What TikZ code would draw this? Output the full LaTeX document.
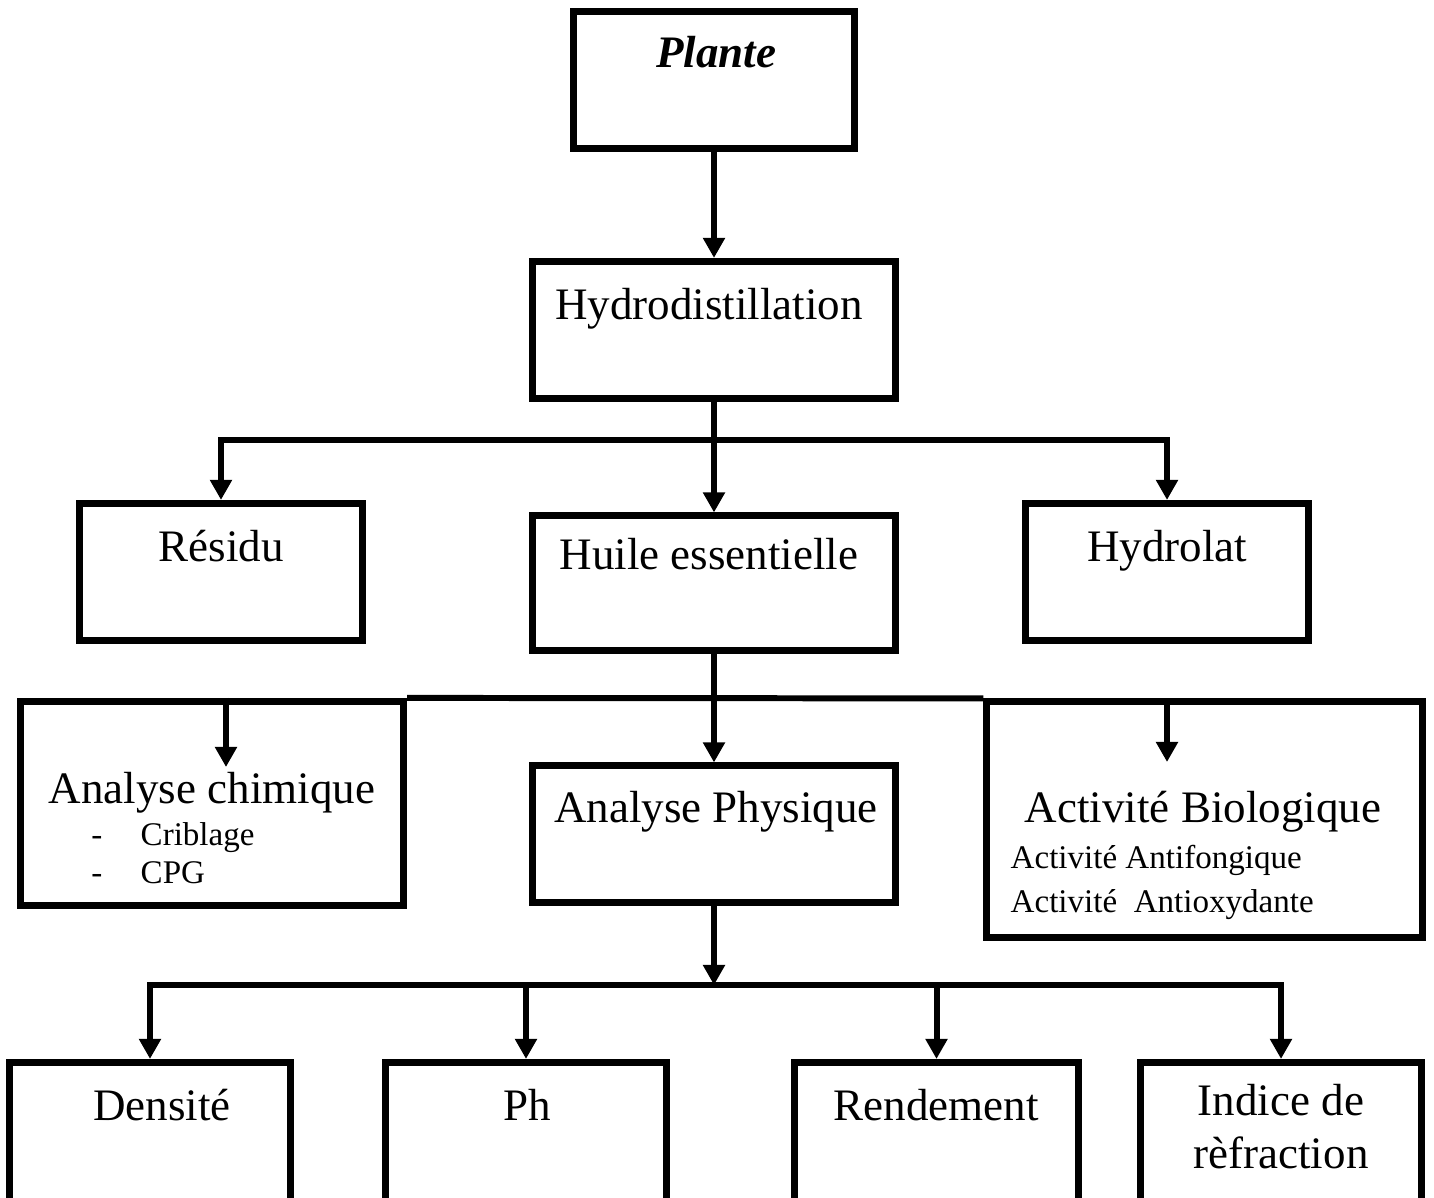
\documentclass[tikz,border=0pt]{standalone}
\usepackage{fontspec}
\setmainfont{Liberation Serif}
\usepackage{tikz}
\usetikzlibrary{arrows.meta,calc}
\tikzset{
  box/.style={draw, line width=2pt, inner sep=0pt},
  lab/.style={font=\fontsize{12.8}{15}\selectfont, anchor=base, inner sep=0pt},
  labs/.style={font=\fontsize{9.4}{11}\selectfont, anchor=base west, inner sep=0pt},
  link/.style={line width=1.7pt},
  arr/.style={line width=1.7pt, -{Triangle[width=0.21cm,length=0.2cm]}},
}

\begin{document}
\begin{tikzpicture}[x=0.01cm,y=-0.01cm]
  \useasboundingbox (0,0) rectangle (1434,1198);
  \clip (0,0) rectangle (1434,1198);

  % boxes
  \node[box, minimum width=2.815cm, minimum height=1.365cm] (plante) at (714,80) {};
  \node[box, minimum width=3.62cm, minimum height=1.37cm] (hydro) at (714,330) {};
  \node[box, minimum width=2.82cm, minimum height=1.37cm] (res) at (221,572) {};
  \node[box, minimum width=3.62cm, minimum height=1.34cm] (huile) at (714,583) {};
  \node[box, minimum width=2.83cm, minimum height=1.37cm] (hydrol) at (1167,572) {};
  \node[box, minimum width=3.83cm, minimum height=2.04cm] (ach) at (212,803.5) {};
  \node[box, minimum width=3.62cm, minimum height=1.36cm] (aphy) at (714,834) {};
  \node[box, minimum width=4.35cm, minimum height=2.35cm] (abio) at (1204.5,819.5) {};
  \node[box, minimum width=2.805cm, minimum height=1.5cm] (dens) at (150,1137.5) {};
  \node[box, minimum width=2.80cm, minimum height=1.5cm] (ph) at (526,1137.5) {};
  \node[box, minimum width=2.83cm, minimum height=1.5cm] (rend) at (936.5,1137.5) {};
  \node[box, minimum width=2.81cm, minimum height=1.5cm] (ind) at (1281,1137.5) {};

  % texts
  \node[lab, font=\fontsize{12.8}{15}\selectfont\bfseries\itshape] (plantetxt) at (716,68) {Plante};
  \node[lab] (hydrotxt) at (709,320) {Hydrodistillation};
  \node[lab] (restxt) at (221,562) {Résidu};
  \node[lab] (huiletxt) at (709,570) {Huile essentielle};
  \node[lab] (hydroltxt) at (1167,562) {Hydrolat};
  \node[lab] (achtxt) at (212,803) {Analyse chimique};
  \node[labs] (crib) at (140,845) {Criblage};
  \node[labs] (cpg) at (140,883) {CPG};
  \node[lab, font=\fontsize{9.4}{11}\selectfont] (dash1) at (97,845) {-};
  \node[lab, font=\fontsize{9.4}{11}\selectfont] (dash2) at (97,883) {-};
  \node[lab] (aphytxt) at (716,822) {Analyse Physique};
  \node[lab] (abiotxt) at (1203,822) {Activité Biologique};
  \node[labs] (fong) at (1010,868) {Activité Antifongique};
  \node[labs] (oxy) at (1010,912) {Activité\ \ Antioxydante};
  \node[lab] (denstxt) at (162,1120) {Densité};
  \node[lab] (phtxt) at (527,1120) {Ph};
  \node[lab] (rendtxt) at (936,1120) {Rendement};
  \node[lab] (indtxt1) at (1281,1115) {Indice de};
  \node[lab] (indtxt2) at (1281,1168) {rèfraction};

  % connectors
  \coordinate (s1) at (714,440);
  \coordinate (s3) at (714,985);
  \coordinate (achtip) at (226,767);
  \coordinate (abiotip) at (1167,762);
  \draw[arr] (plante.south) -- (hydro.north);
  \draw[arr] (hydro.south) -- (huile.north);
  \draw[arr] (s1) -| (res.north);
  \draw[arr] (s1) -| (hydrol.north);
  \draw[link] (ach.north east) -- (abio.north west);
  \draw[arr] (huile.south) -- (aphy.north);
  \draw[arr] (achtip |- ach.north) -- (achtip);
  \draw[arr] (abiotip |- abio.north) -- (abiotip);
  \draw[arr] (aphy.south) -- (s3);
  \draw[arr] (s3) -| (dens.north);
  \draw[arr] (s3) -| (ph.north);
  \draw[arr] (s3) -| (rend.north);
  \draw[arr] (s3) -| (ind.north);
\end{tikzpicture}
\end{document}
